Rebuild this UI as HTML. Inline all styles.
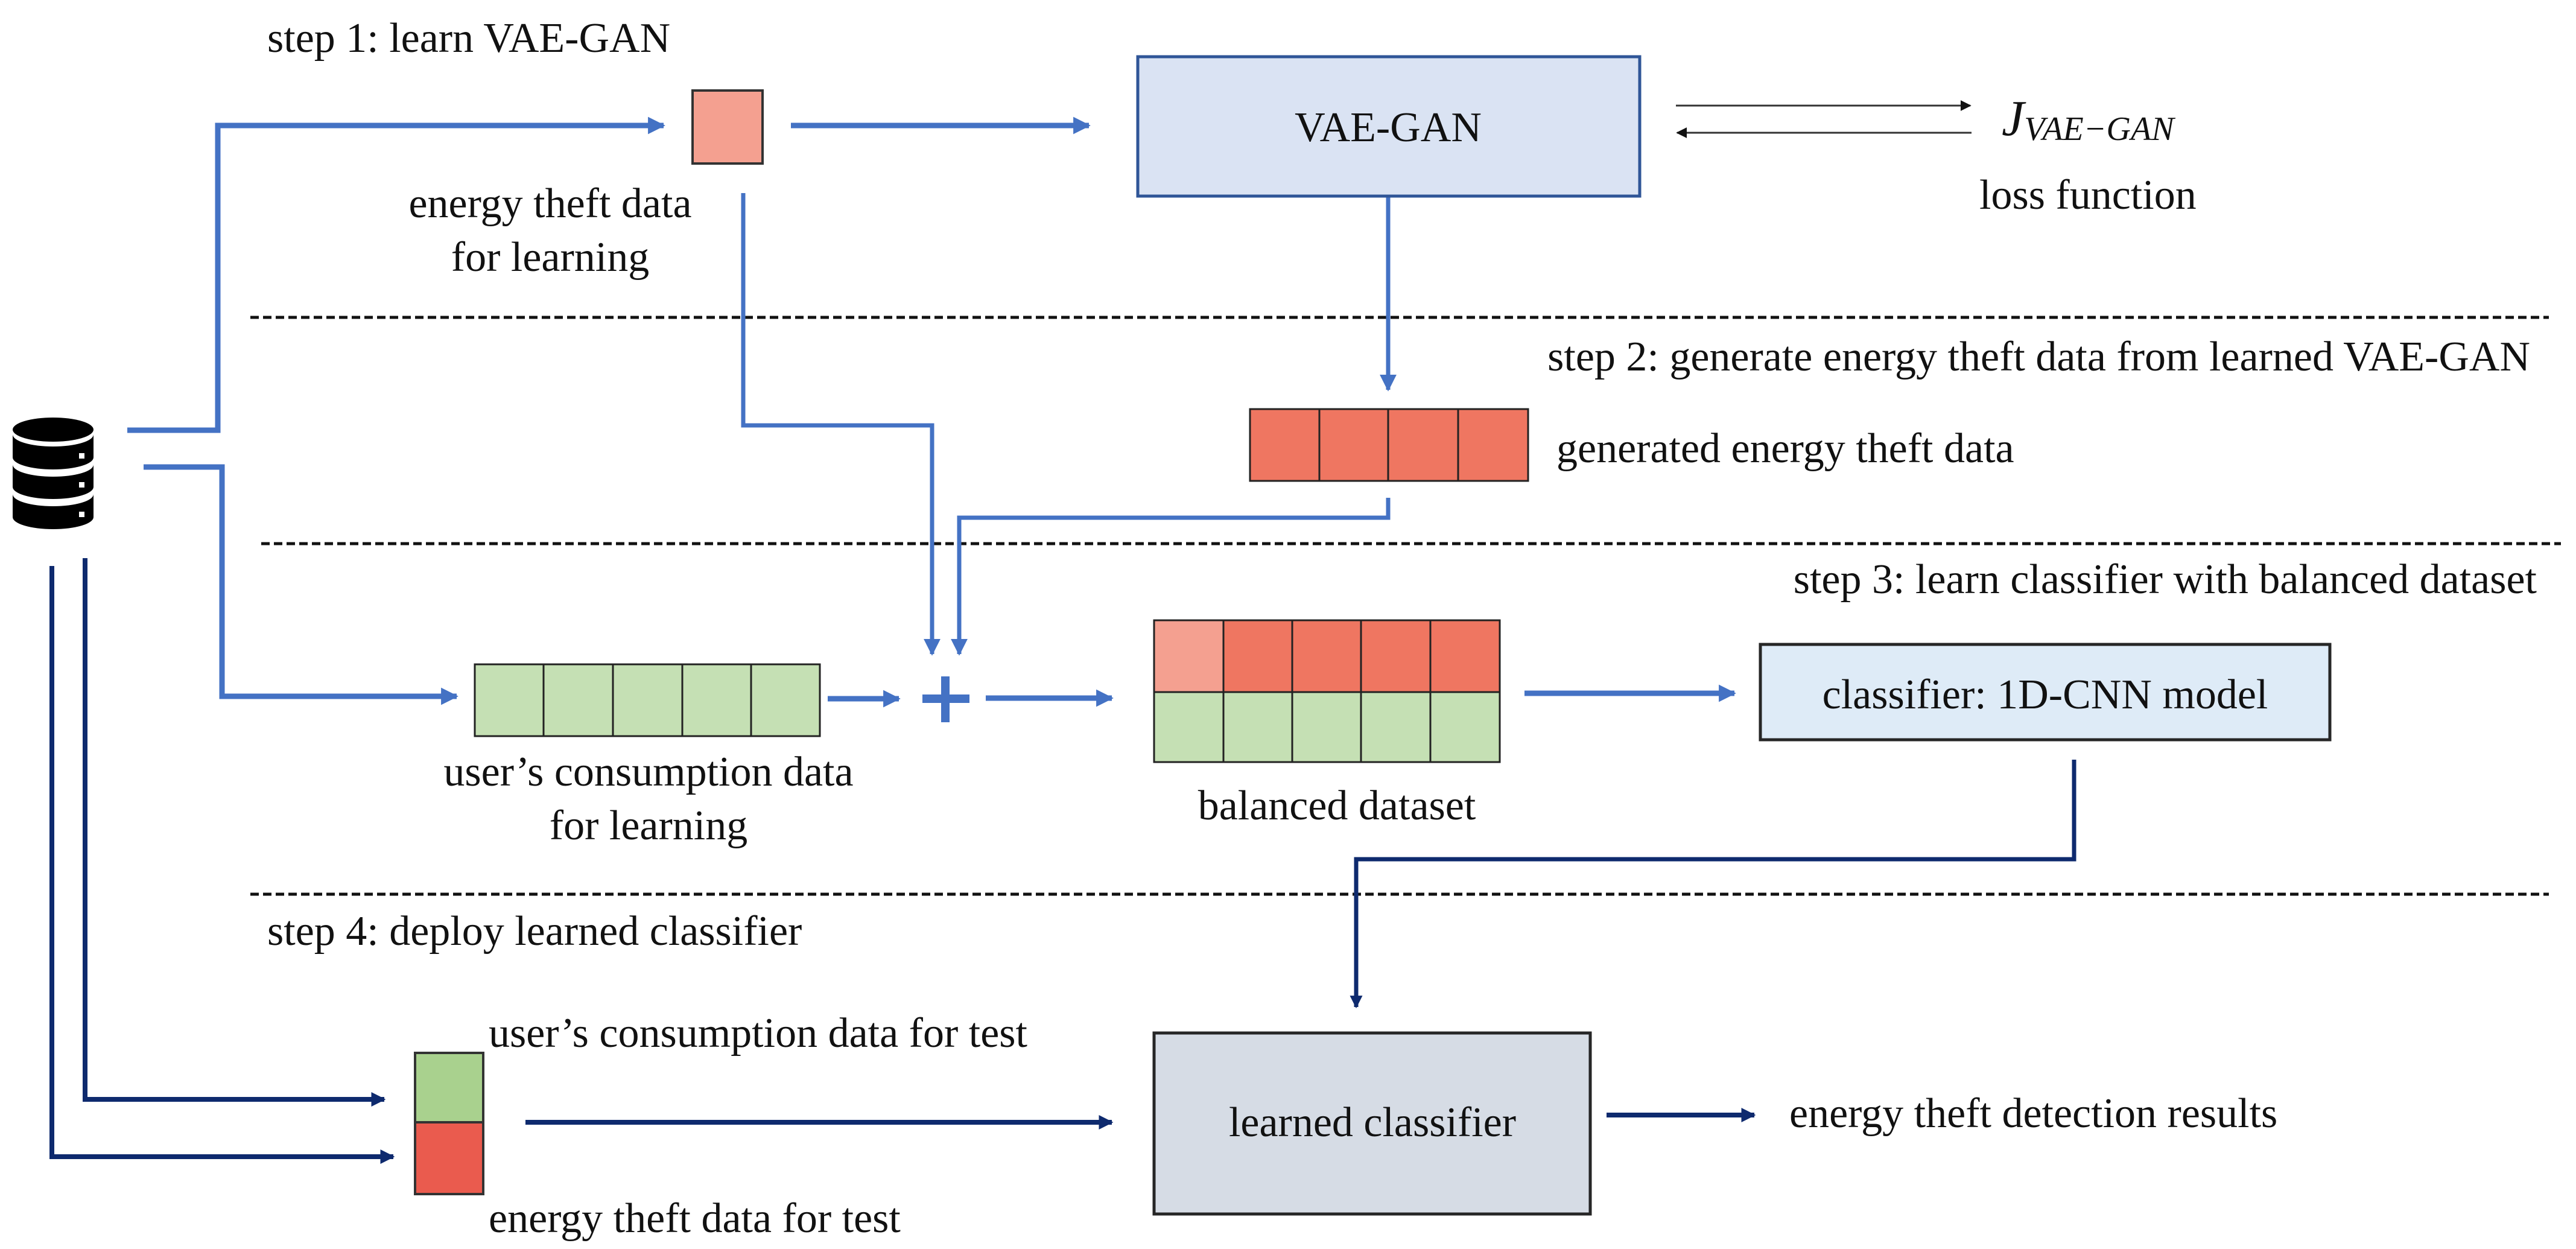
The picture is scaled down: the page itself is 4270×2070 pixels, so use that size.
<!DOCTYPE html>
<html><head><meta charset="utf-8"><style>
html,body{margin:0;padding:0;background:#fff}
svg{display:block}
text{font-family:"Liberation Serif",serif;font-size:70px;fill:#111}
</style></head><body>
<svg width="4270" height="2070" viewBox="0 0 4270 2070" xmlns="http://www.w3.org/2000/svg">
<defs>
<marker id="ab" viewBox="0 0 10 10" refX="9" refY="5" markerWidth="3.2" markerHeight="3.2" orient="auto"><path d="M0,0 L10,5 L0,10 z" fill="#4472c4"/></marker>
<marker id="ab2" viewBox="0 0 10 10" refX="9" refY="5" markerWidth="4" markerHeight="4" orient="auto"><path d="M0,0 L10,5 L0,10 z" fill="#4472c4"/></marker>
<marker id="ad" viewBox="0 0 10 10" refX="9" refY="5" markerWidth="3" markerHeight="3" orient="auto"><path d="M0,0 L10,5 L0,10 z" fill="#0e2a6e"/></marker>
<marker id="ak" viewBox="0 0 10 10" refX="9" refY="5" markerWidth="6" markerHeight="6" orient="auto"><path d="M0,0 L10,5 L0,10 z" fill="#111"/></marker>
</defs>

<!-- dashed lines -->
<g stroke="#111" stroke-width="5" stroke-dasharray="14 7">
<line x1="415" y1="526" x2="4225" y2="526"/>
<line x1="433" y1="901" x2="4245" y2="901"/>
<line x1="415" y1="1482" x2="4225" y2="1482"/>
</g>

<!-- step labels -->
<text x="443" y="86">step 1: learn VAE-GAN</text>
<text x="4194" y="614" text-anchor="end">step 2: generate energy theft data from learned VAE-GAN</text>
<text x="4205" y="983" text-anchor="end">step 3: learn classifier with balanced dataset</text>
<text x="443" y="1566">step 4: deploy learned classifier</text>

<!-- database icon -->
<g fill="#000">
<ellipse cx="88" cy="712" rx="67" ry="20"/>
<path d="M21,720 A67,20 0 0 0 155,720 L155,758 A67,20 0 0 1 21,758 Z"/>
<path d="M21,770 A67,20 0 0 0 155,770 L155,807 A67,20 0 0 1 21,807 Z"/>
<path d="M21,819 A67,20 0 0 0 155,819 L155,857 A67,20 0 0 1 21,857 Z"/>
</g>
<g fill="#fff"><rect x="131" y="751" width="9" height="9"/><rect x="131" y="799" width="9" height="9"/><rect x="131" y="848" width="9" height="9"/></g>

<!-- blue connectors -->
<g fill="none" stroke="#4472c4" stroke-width="9">
<polyline points="211,713 361,713 361,208 1100,208" marker-end="url(#ab)"/>
<line x1="1311" y1="208" x2="1805" y2="208" marker-end="url(#ab)"/>
<polyline points="238,774 368,774 368,1154 757,1154" marker-end="url(#ab)"/>
<line x1="1372" y1="1158" x2="1490" y2="1158" marker-end="url(#ab)"/>
<line x1="1634" y1="1157" x2="1843" y2="1157" marker-end="url(#ab)"/>
<line x1="2527" y1="1149" x2="2875" y2="1149" marker-end="url(#ab)"/>
</g>
<g fill="none" stroke="#4472c4" stroke-width="7">
<polyline points="1232,320 1232,705 1545,705 1545,1084" marker-end="url(#ab2)"/>
<polyline points="2301,825 2301,858 1590,858 1590,1084" marker-end="url(#ab2)"/>
<line x1="2301" y1="325" x2="2301" y2="646" marker-end="url(#ab2)"/>
</g>
<!-- plus -->
<g fill="#4472c4"><rect x="1529" y="1151" width="78" height="14"/><rect x="1560" y="1121" width="14" height="76"/></g>

<!-- dark connectors -->
<g fill="none" stroke="#0e2a6e" stroke-width="8">
<polyline points="141,925 141,1822 637,1822" marker-end="url(#ad)"/>
<polyline points="86,938 86,1917 652,1917" marker-end="url(#ad)"/>
<line x1="871" y1="1860" x2="1843" y2="1860" marker-end="url(#ad)"/>
<line x1="2663" y1="1848" x2="2908" y2="1848" marker-end="url(#ad)"/>
<polyline points="3438,1259 3438,1424 2248,1424 2248,1669" stroke-width="7" marker-end="url(#ad)"/>
</g>

<!-- pink square -->
<rect x="1148" y="150" width="116" height="121" fill="#f4a090" stroke="#333" stroke-width="4"/>
<text x="912" y="360" text-anchor="middle">energy theft data</text>
<text x="912" y="449" text-anchor="middle">for learning</text>

<!-- VAE-GAN box -->
<rect x="1886" y="94" width="832" height="231" fill="#dae3f3" stroke="#2f5597" stroke-width="5"/>
<text x="2301" y="234" text-anchor="middle">VAE-GAN</text>

<!-- loss arrows -->
<line x1="2778" y1="175" x2="3266" y2="175" stroke="#333" stroke-width="3" marker-end="url(#ak)"/>
<line x1="3268" y1="220" x2="2780" y2="220" stroke="#333" stroke-width="3" marker-end="url(#ak)"/>
<text x="3318" y="224" font-style="italic" style="font-size:84px">J<tspan style="font-size:56px" dy="8">VAE−GAN</tspan></text>
<text x="3281" y="346">loss function</text>

<!-- generated data -->
<g fill="#ef7661" stroke="#222" stroke-width="3">
<rect x="2072" y="678" width="115" height="119"/><rect x="2187" y="678" width="114" height="119"/>
<rect x="2301" y="678" width="116" height="119"/><rect x="2417" y="678" width="116" height="119"/>
</g>
<text x="2580" y="766">generated energy theft data</text>

<!-- user's consumption data for learning -->
<g fill="#c5e0b4" stroke="#222" stroke-width="3">
<rect x="787" y="1101" width="114" height="119"/><rect x="901" y="1101" width="115" height="119"/>
<rect x="1016" y="1101" width="115" height="119"/><rect x="1131" y="1101" width="114" height="119"/>
<rect x="1245" y="1101" width="114" height="119"/>
</g>
<text x="1075" y="1302" text-anchor="middle">user’s consumption data</text>
<text x="1075" y="1391" text-anchor="middle">for learning</text>

<!-- balanced dataset -->
<g stroke="#222" stroke-width="3">
<rect x="1913" y="1028" width="115" height="119" fill="#f4a090"/>
<rect x="2028" y="1028" width="114" height="119" fill="#ef7661"/>
<rect x="2142" y="1028" width="114" height="119" fill="#ef7661"/>
<rect x="2256" y="1028" width="115" height="119" fill="#ef7661"/>
<rect x="2371" y="1028" width="115" height="119" fill="#ef7661"/>
<rect x="1913" y="1147" width="115" height="116" fill="#c5e0b4"/>
<rect x="2028" y="1147" width="114" height="116" fill="#c5e0b4"/>
<rect x="2142" y="1147" width="114" height="116" fill="#c5e0b4"/>
<rect x="2256" y="1147" width="115" height="116" fill="#c5e0b4"/>
<rect x="2371" y="1147" width="115" height="116" fill="#c5e0b4"/>
</g>
<text x="2216" y="1358" text-anchor="middle">balanced dataset</text>

<!-- classifier -->
<rect x="2918" y="1068" width="944" height="158" fill="#deebf7" stroke="#262626" stroke-width="5"/>
<text x="3390" y="1174" text-anchor="middle">classifier: 1D-CNN model</text>

<!-- test stack -->
<rect x="688" y="1745" width="113" height="115" fill="#a9d18e" stroke="#333" stroke-width="4"/>
<rect x="688" y="1860" width="113" height="119" fill="#ea5b4e" stroke="#333" stroke-width="4"/>
<text x="810" y="1735">user’s consumption data for test</text>
<text x="810" y="2042">energy theft data for test</text>

<!-- learned classifier -->
<rect x="1913" y="1712" width="723" height="300" fill="#d6dce5" stroke="#262626" stroke-width="5"/>
<text x="2275" y="1883" text-anchor="middle">learned classifier</text>
<text x="2966" y="1868">energy theft detection results</text>
</svg>
</body></html>
